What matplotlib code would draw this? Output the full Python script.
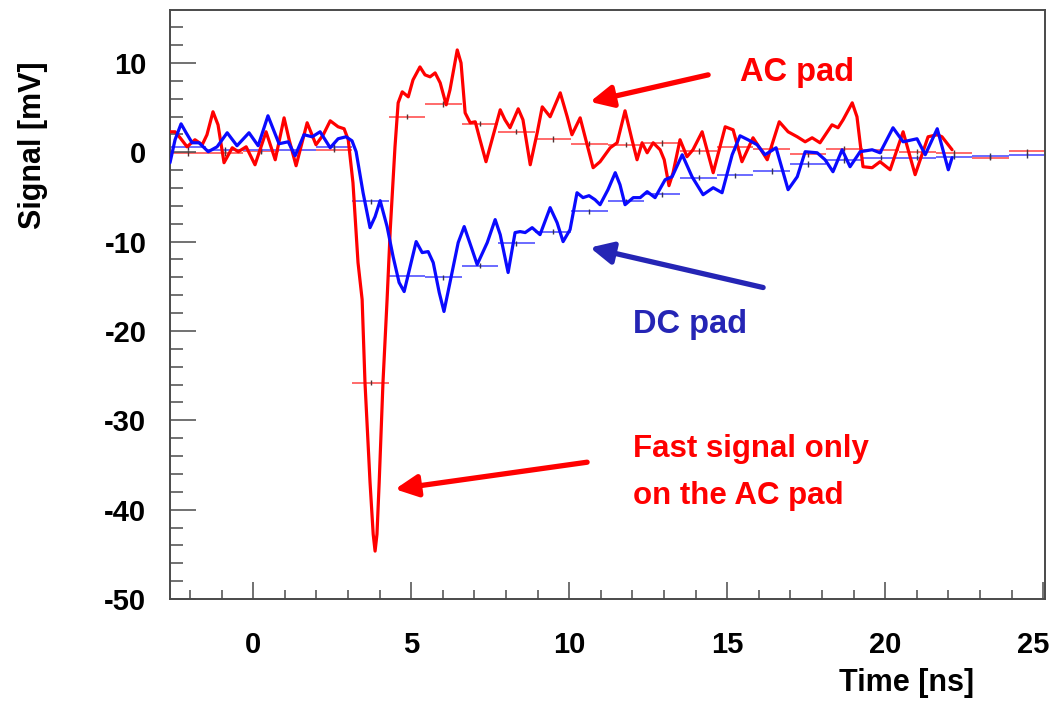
import numpy as np
import matplotlib
matplotlib.use("Agg")
import matplotlib.pyplot as plt
import matplotlib.transforms as mtransforms
from matplotlib.ticker import MultipleLocator

plt.rcParams['font.family'] = ['Liberation Sans', 'DejaVu Sans']
plt.rcParams['font.weight'] = 'bold'
plt.rcParams['axes.unicode_minus'] = False

# ---------------- data ----------------
ac_t = [-2.63, -2.47, -2.31, -2.09, -1.84, -1.61, -1.46, -1.27, -1.11, -0.92, -0.66, -0.47, -0.22,
        0.06, 0.41, 0.70, 0.98, 1.14, 1.36, 1.71, 1.99, 2.22, 2.44, 2.69, 2.88, 3.01, 3.16, 3.32,
        3.45, 3.54, 3.70, 3.80, 3.86, 3.92, 3.99, 4.11, 4.24, 4.34, 4.49, 4.59, 4.72, 4.91, 5.06,
        5.28, 5.44, 5.60, 5.76, 5.92, 6.11, 6.23, 6.46, 6.58, 6.71, 6.87, 7.03, 7.18, 7.37, 7.56,
        7.82, 7.97, 8.13, 8.39, 8.54, 8.77, 8.99, 9.15, 9.40, 9.72, 9.94, 10.09, 10.35, 10.57,
        10.76, 10.98, 11.30, 11.52, 11.77, 11.99, 12.15, 12.31, 12.47, 12.66, 12.88, 13.01, 13.16,
        13.29, 13.51, 13.73, 13.92, 14.21, 14.56, 14.94, 15.19, 15.47, 15.82, 16.11, 16.27, 16.65,
        16.93, 17.22, 17.47, 17.69, 17.94, 18.32, 18.51, 18.67, 18.96, 19.11, 19.30, 19.59, 19.84,
        20.16, 20.57, 20.95, 21.36, 21.65, 21.80, 22.12]
ac_mv = [2.29, 2.29, 1.62, 0.61, 1.40, 0.84, 1.96, 4.53, 3.07, -1.17, 0.50, 0.06, 0.61,
         -1.40, 2.29, -0.84, 3.85, 1.40, -1.51, 3.30, 0.84, 1.96, 3.52, 2.85, 2.63, 1.40, -3.41, -12.35,
         -16.48, -25.75, -36.93, -42.74, -44.64, -42.74, -36.93, -25.75, -16.48, -8.66, 0.61, 5.53, 6.76, 6.20, 8.10,
         9.55, 8.66, 8.44, 8.88, 7.77, 5.31, 6.98, 11.45, 10.00, 4.41, 3.30, 3.41, 1.40, -1.06, 1.40,
         4.75, 3.63, 2.74, 4.86, 3.63, -1.40, 2.18, 5.08, 3.97, 6.65, 3.97, 1.96, 3.85, 0.84,
         -1.73, -1.06, 0.50, 1.06, 4.64, 1.40, -0.84, 1.06, -0.06, 1.06, 0.28, -0.84, -3.74,
         -2.29, 1.40, -0.50, 0.28, 2.29, -2.29, 2.85, 2.51, -1.06, 1.62, 0.06, -0.84, 3.41,
         2.29, 1.73, 1.17, 1.62, 1.06, 3.07, 2.74, 3.63, 5.53, 3.97, -1.62, -1.73, -1.06,
         -1.96, 2.29, -2.51, 1.73, 1.96, 1.73, 0.28]

dc_t = [-2.63, -2.47, -2.28, -2.12, -1.93, -1.71, -1.42, -1.14, -0.82, -0.51, -0.13, 0.16, 0.47,
        0.82, 1.11, 1.33, 1.61, 1.87, 2.12, 2.44, 2.69, 2.94, 3.13, 3.26, 3.48, 3.70, 3.86, 4.02,
        4.24, 4.43, 4.62, 4.78, 5.00, 5.16, 5.35, 5.54, 5.70, 5.89, 6.04, 6.23, 6.49, 6.68, 6.93,
        7.09, 7.41, 7.66, 7.82, 8.07, 8.29, 8.45, 8.61, 8.83, 9.08, 9.40, 9.62, 9.81, 10.03, 10.25,
        10.44, 10.63, 10.82, 10.98, 11.23, 11.46, 11.61, 11.77, 12.03, 12.25, 12.47, 12.72, 13.04,
        13.26, 13.58, 13.89, 14.24, 14.56, 14.84, 15.16, 15.41, 15.66, 15.95, 16.20, 16.55, 16.93,
        17.22, 17.47, 17.85, 18.10, 18.35, 18.64, 18.89, 19.21, 19.59, 19.84, 20.25, 20.57, 21.01,
        21.27, 21.65, 22.00, 22.12]
dc_mv = [-1.17, 1.40, 3.18, 2.18, 1.06, 1.06, 0.06, 0.61, 2.18, 0.73, 2.18, 0.73, 4.08,
         0.95, 1.17, -0.39, 1.96, 1.73, 2.29, 0.50, 1.51, 1.73, 1.28, 0.06, -4.53, -8.44, -7.21, -5.42,
         -8.32, -11.68, -14.58, -15.59, -12.35, -10.00, -11.23, -11.12, -12.35, -15.70, -17.82, -14.58, -10.11, -8.32, -10.89,
         -12.57, -10.11, -7.54, -9.22, -13.46, -8.99, -8.88, -8.99, -8.44, -9.22, -6.20, -7.88, -10.00, -8.66, -4.53,
         -5.08, -4.86, -5.31, -5.87, -4.19, -2.29, -3.63, -5.87, -5.08, -5.08, -4.41, -5.08, -3.07,
         -2.74, -0.28, -2.74, -4.75, -3.97, -4.53, -0.28, 1.84, 1.40, 0.84, -0.28, 0.50, -4.19,
         -2.74, 0.06, -0.06, -0.84, -2.18, 0.28, -1.62, 0.06, 0.28, -0.06, 2.74, 1.17, 1.51,
         -0.28, 2.63, -1.96, -0.61]

# binned averages (24 bins across the time window)
ac_bins = [-0.1, -0.1, 0.1, 0.3, 0.3, -25.8, 4.0, 5.4, 3.2, 2.3, 1.5, 0.95,
           0.85, 1.05, 0.15, 0.6, 0.4, -0.2, 0.4, 0.2, 0.05, -0.05, -0.6, 0.1]
dc_bins = [0.6, 0.3, 0.2, 0.3, 0.6, -5.5, -13.9, -14.0, -12.7, -10.2, -8.9, -6.6,
           -5.5, -4.7, -2.85, -2.6, -2.1, -1.3, -0.85, -0.6, -0.6, -0.5, -0.4, -0.35]

x_ticks = [0, 5, 10, 15, 20, 25]
y_ticks = [10, 0, -10, -20, -30, -40, -50]

# ---------------- figure ----------------
fig = plt.figure(figsize=(10.54, 7.01), dpi=100)
ax = fig.add_axes([170 / 1054, 1 - 599 / 701, (1045 - 170) / 1054, (599 - 10) / 701])
xlo, xhi = -2.63, 25.06
ax.set_xlim(xlo, xhi)
ax.set_ylim(-50, 15.92)

edges = np.linspace(xlo, xhi, len(ac_bins) + 1)
centers = 0.5 * (edges[:-1] + edges[1:])
half = 0.5 * (edges[1] - edges[0])

ax.errorbar(centers, ac_bins, xerr=half, fmt='none', ecolor='#ff6a6a', elinewidth=1.4, zorder=1)
ax.errorbar(centers, dc_bins, xerr=half, fmt='none', ecolor='#6a6aff', elinewidth=1.4, zorder=1)
ax.errorbar(centers, ac_bins, yerr=0.3, fmt='none', ecolor='#553333', elinewidth=1.0, zorder=1.5)
ax.errorbar(centers, dc_bins, yerr=0.3, fmt='none', ecolor='#333355', elinewidth=1.0, zorder=1.5)

ax.plot(ac_t, ac_mv, color='#ff0000', lw=2.3, solid_joinstyle='round', solid_capstyle='round', zorder=3)
ax.plot(dc_t, dc_mv, color='#0a0aff', lw=2.3, solid_joinstyle='round', solid_capstyle='round', zorder=4)

# axes styling
for s in ax.spines.values():
    s.set_color('#4a4a4a')
    s.set_linewidth(1.4)
ax.set_xticks(x_ticks)
ax.set_yticks(y_ticks)
ax.xaxis.set_minor_locator(MultipleLocator(1))
ax.yaxis.set_minor_locator(MultipleLocator(2))
ax.tick_params(axis='x', which='major', direction='in', length=12, width=1.1, color='#4a4a4a',
               pad=23, labelsize=21, top=False)
ax.tick_params(axis='x', which='minor', direction='in', length=6.5, width=1.1, color='#4a4a4a', top=False)
ax.tick_params(axis='y', which='major', direction='in', length=19, width=1.1, color='#4a4a4a',
               pad=17, labelsize=21, right=False)
ax.tick_params(axis='y', which='minor', direction='in', length=9.5, width=1.1, color='#4a4a4a', right=False)
for lab in ax.get_xticklabels() + ax.get_yticklabels():
    lab.set_fontweight('bold')
# the last x label sits slightly left of its tick, as in the original
last = ax.get_xticklabels()[-1]
last.set_transform(last.get_transform() + mtransforms.ScaledTranslation(-10 / 100, 0, fig.dpi_scale_trans))

fig.text(33 / 1054, 1 - 145 / 701, 'Signal [mV]', rotation=90, ha='center', va='center',
         fontsize=22, fontweight='bold')
fig.text(907 / 1054, 1 - 683 / 701, 'Time [ns]', ha='center', va='center',
         fontsize=22, fontweight='bold')

red = '#ff0000'
navy = '#2525b5'
ax.text(15.41, 8.88, 'AC pad', color=red, fontsize=23.5, fontweight='bold', ha='left', va='center')
ax.text(12.03, -19.27, 'DC pad', color=navy, fontsize=23.5, fontweight='bold', ha='left', va='center')
ax.text(12.03, -33.2, 'Fast signal only', color=red, fontsize=22.5, fontweight='bold', ha='left', va='center')
ax.text(12.03, -38.5, 'on the AC pad', color=red, fontsize=22.5, fontweight='bold', ha='left', va='center')

def arrow(x0, y0, x1, y1, c):
    ax.annotate('', xy=(x1, y1), xytext=(x0, y0),
                arrowprops=dict(arrowstyle='-|>,head_length=0.45,head_width=0.22', lw=3.8,
                                color=c, shrinkA=0, shrinkB=0, mutation_scale=30), zorder=6)

arrow(14.40, 8.66, 10.66, 5.64, red)
arrow(16.14, -15.14, 10.66, -10.67, navy)
arrow(10.57, -34.69, 4.49, -37.71, red)

fig.savefig('out.png', dpi=100, facecolor='white')
